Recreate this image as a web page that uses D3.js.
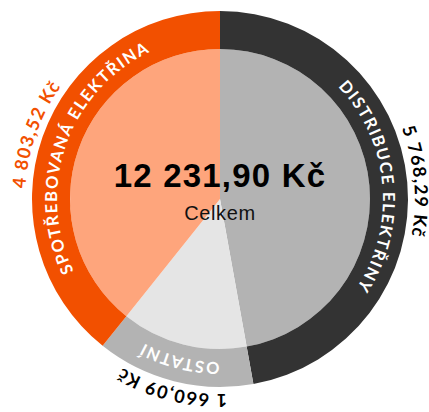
<!DOCTYPE html>
<html>
<head>
<meta charset="utf-8">
<script src="https://cdn.jsdelivr.net/npm/d3@7"></script>
<style>
  html, body { margin: 0; padding: 0; background: #fff; }
  svg { display: block; }
  .ring-label { font-family: Lato, "Open Sans", sans-serif; font-weight: 700; font-size: 16.5px; fill: #fff; letter-spacing: 1.6px; }
  .value-label { font-family: Lato, "Open Sans", sans-serif; font-weight: 700; font-size: 18px; letter-spacing: 1.3px; }
  .total { font-family: "Liberation Sans", Arial, sans-serif; font-weight: 700; font-size: 33px; fill: #000; letter-spacing: 1.2px; }
  .total-sub { font-family: "Liberation Sans", Arial, sans-serif; font-size: 20px; fill: #111; letter-spacing: 0.6px; }
</style>
</head>
<body>
<script>
//////////////// Data ////////////////////
var categories = ["DISTRIBUCE ELEKTŘINY", "OSTATNÍ", "SPOTŘEBOVANÁ ELEKTŘINA"];
var values = [5768.29, 1660.09, 4803.52];
var totalText = "Celkem";

//////////////// Variables ////////////////////
var width = 429, height = 412;
var cx = 220, cy = 199;
var rInner = 150, rOuter = 188;
var rRingText = 163, rValueText = 195;

// ring colour, pie colour, value text colour
var ringColor = d3.scaleOrdinal().domain(categories).range(["#333333", "#b3b3b3", "#f25000"]);
var pieColor = d3.scaleOrdinal().domain(categories).range(["#b3b3b3", "#e5e5e5", "#fea57c"]);
var valueColor = d3.scaleOrdinal().domain(categories).range(["#000", "#000", "#f25000"]);

var cz = d3.formatLocale({decimal: ",", thousands: " ", grouping: [3], currency: ["", " Kč"]});
var fmt = cz.format("$,.2f");

//////////////// SVG ////////////////////
var svg = d3.select("body")
  .append("svg")
  .attr("width", width)
  .attr("height", height)
  .append("g")
    .attr("transform", "translate(" + cx + "," + cy + ")");

var data = categories.map(function(c, i) { return {name: c, value: values[i]}; });

var pie = d3.pie()
  .sort(null)
  .value(function(d) { return d.value; });
var arcs = pie(data);

var innerArc = d3.arc().innerRadius(0).outerRadius(rInner);
var ringArc = d3.arc().innerRadius(rInner).outerRadius(rOuter);

//////////////// Slices ////////////////////
svg.append("g").selectAll("path")
  .data(arcs)
  .enter()
  .append("path")
  .attr("d", innerArc)
  .attr("fill", function(d) { return pieColor(d.data.name); });

svg.append("g").selectAll("path")
  .data(arcs)
  .enter()
  .append("path")
  .attr("d", ringArc)
  .attr("fill", function(d) { return ringColor(d.data.name); });

//////////////// Text paths ////////////////////
// plain clockwise circular arc for a slice at radius r
function arcPath(d, r) {
  var p = d3.path();
  p.arc(0, 0, r, d.startAngle - Math.PI / 2, d.endAngle - Math.PI / 2, false);
  return p.toString();
}

var defs = svg.append("defs");
arcs.forEach(function(d, i) {
  defs.append("path").attr("id", "ring-" + i).attr("d", arcPath(d, rRingText));
  defs.append("path").attr("id", "value-" + i).attr("d", arcPath(d, rValueText));
});

svg.append("g").selectAll("text")
  .data(arcs)
  .enter()
  .append("text")
  .attr("class", "ring-label")
  .append("textPath")
    .attr("href", function(d, i) { return "#ring-" + i; })
    .attr("startOffset", "50%")
    .style("text-anchor", "middle")
    .text(function(d) { return d.data.name; });

svg.append("g").selectAll("text")
  .data(arcs)
  .enter()
  .append("text")
  .attr("class", "value-label")
  .style("fill", function(d) { return valueColor(d.data.name); })
  .append("textPath")
    .attr("href", function(d, i) { return "#value-" + i; })
    .attr("startOffset", "50%")
    .style("text-anchor", "middle")
    .text(function(d) { return fmt(d.data.value); });

//////////////// Centre ////////////////////
svg.append("text")
  .attr("class", "total")
  .attr("x", 0)
  .attr("y", -12)
  .style("text-anchor", "middle")
  .text(fmt(d3.sum(values)));

svg.append("text")
  .attr("class", "total-sub")
  .attr("x", 0)
  .attr("y", 21)
  .style("text-anchor", "middle")
  .text(totalText);
</script>
</body>
</html>
